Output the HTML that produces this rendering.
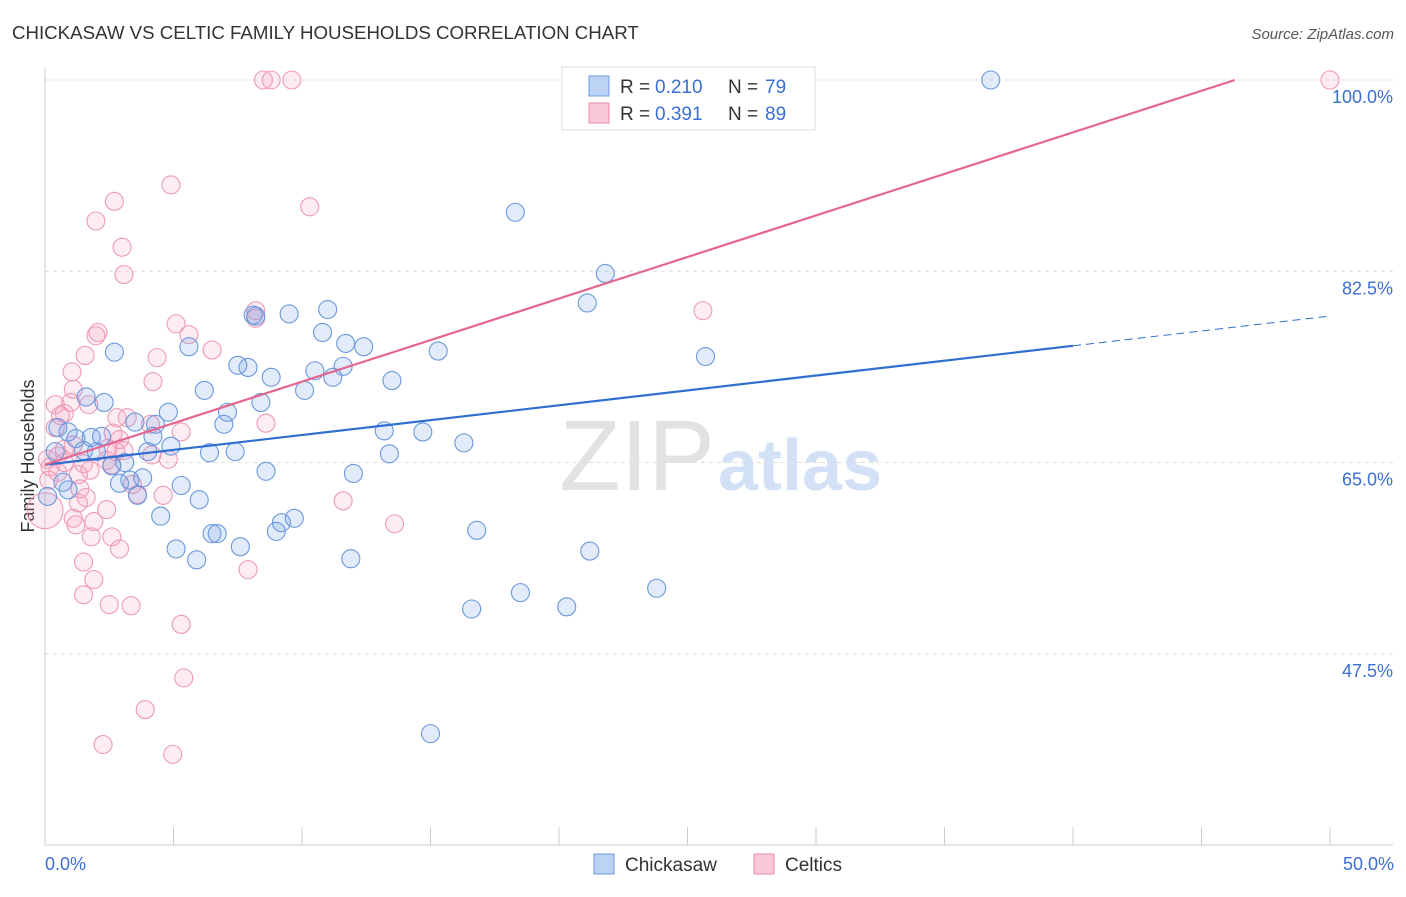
<!DOCTYPE html>
<html><head><meta charset="utf-8"><style>
body{margin:0;background:#fff;font-family:"Liberation Sans",sans-serif;}
svg text{font-family:"Liberation Sans",sans-serif;}
</style></head><body>
<svg id="chart" width="1406" height="892" viewBox="0 0 1406 892" xmlns="http://www.w3.org/2000/svg">
<text x="12" y="39" font-size="18.7" fill="#333">CHICKASAW VS CELTIC FAMILY HOUSEHOLDS CORRELATION CHART</text>
<text x="1394" y="39" font-size="15" fill="#555" text-anchor="end" font-style="italic">Source: ZipAtlas.com</text>
<g id="grid"></g>
<text x="715" y="490" font-size="100" text-anchor="end" fill="#e2e2e2" font-family="Liberation Serif">ZIP</text>
<text x="718" y="490" font-size="72" fill="#d3e1f6" font-weight="bold">atlas</text>
<line x1="45" y1="68" x2="45" y2="845" stroke="#ccc"/>
<line x1="45" y1="845" x2="1393" y2="845" stroke="#ccc"/>
<g id="xticks"></g>
<g id="yticks"></g>
<text transform="translate(34,456) rotate(-90)" font-size="18" fill="#333" text-anchor="middle">Family Households</text>
<text x="45" y="870" font-size="18" fill="#3b6fd4">0.0%</text>
<text x="1394" y="870" font-size="18" fill="#3b6fd4" text-anchor="end">50.0%</text>
<g id="points"></g>
<g id="lines"></g>
<g>
<rect x="562" y="67" width="253" height="63" fill="#fff" stroke="#ddd"/>
<rect x="589" y="76" width="20" height="20" fill="#bcd3f5" stroke="#6d9be0"/>
<rect x="589" y="103" width="20" height="20" fill="#f9c8d8" stroke="#e88aa8"/>
<text x="620" y="93" font-size="19" fill="#333">R =</text>
<text x="655" y="93" font-size="19" fill="#3b6fd4">0.210</text>
<text x="728" y="93" font-size="19" fill="#333">N =</text>
<text x="765" y="93" font-size="19" fill="#3b6fd4">79</text>
<text x="620" y="120" font-size="19" fill="#333">R =</text>
<text x="655" y="120" font-size="19" fill="#3b6fd4">0.391</text>
<text x="728" y="120" font-size="19" fill="#333">N =</text>
<text x="765" y="120" font-size="19" fill="#3b6fd4">89</text>
</g>
<g>
<rect x="594" y="854" width="20" height="20" fill="#bcd3f5" stroke="#6d9be0"/>
<text x="625" y="871" font-size="19" fill="#333">Chickasaw</text>
<rect x="754" y="854" width="20" height="20" fill="#f9c8d8" stroke="#e88aa8"/>
<text x="785" y="871" font-size="19" fill="#333">Celtics</text>
</g>
</svg>
<script>
const yTicks=[47.5,65.0,82.5,100.0];
const blueX=[36.8,18.3,21.8,21.1,25.7,2.7,5.6,8.1,8.2,9.5,11.0,10.8,11.7,12.4,15.3,7.5,7.9,11.6,10.5,8.8,11.2,13.5,6.2,10.1,8.4,2.3,1.6,4.8,7.1,6.96,4.3,3.5,0.5,0.9,1.2,1.8,2.2,4.2,13.2,14.7,16.3,4.9,4.0,0.4,1.5,2.0,6.4,7.4,13.4,3.1,2.6,8.6,12.0,3.8,3.3,2.9,0.7,5.3,0.9,3.6,6.0,0.1,4.5,9.7,9.2,9.0,6.5,6.7,16.8,7.6,5.1,21.2,5.9,11.9,23.8,18.5,20.3,16.6,15.0];
const blueY=[100,87.9,82.3,79.6,74.7,75.1,75.6,78.5,78.4,78.6,79.0,76.9,75.9,75.6,75.2,73.9,73.7,73.8,73.4,72.8,72.8,72.5,71.6,71.6,70.5,70.5,71.0,69.6,69.6,68.5,68.5,68.7,68.2,67.8,67.2,67.3,67.4,67.4,67.9,67.8,66.8,66.5,66.0,66.0,66.1,66.0,65.9,66.0,65.8,65.0,64.7,64.2,64.0,63.6,63.4,63.1,63.2,62.9,62.5,62.0,61.6,61.9,60.1,59.9,59.5,58.7,58.5,58.5,58.8,57.3,57.1,56.9,56.1,56.2,53.5,53.1,51.8,51.6,40.2];
const pinkX=[50.0,8.5,8.8,9.6,4.9,10.3,2.7,1.98,3.0,3.07,8.2,8.2,25.6,5.1,2.06,1.98,5.6,6.5,1.56,4.36,1.05,4.2,1.1,1.7,0.4,1.0,0.75,0.6,3.2,2.8,4.1,8.6,0.4,2.65,5.3,2.9,1.1,0.75,2.45,2.76,3.07,4.16,0.5,0.1,4.8,0.75,1.5,2.4,0.2,0.5,1.3,1.75,2.6,3.4,1.36,0.15,4.6,3.6,1.6,1.3,11.6,2.4,1.1,1.9,1.2,13.6,0.0,1.8,2.6,2.9,1.5,7.9,1.9,1.5,2.5,3.35,5.3,5.4,3.9,2.26,4.97];
const pinkY=[100,100,100,100,90.4,88.4,88.9,87.1,84.7,82.2,78.9,78.2,78.9,77.7,76.9,76.6,76.7,75.3,74.8,74.6,73.3,72.4,71.7,70.3,70.3,70.5,69.5,69.3,69.1,69.1,68.5,68.6,68.2,67.7,67.8,67.1,66.6,66.2,66.3,66.0,66.1,65.7,65.6,65.3,65.3,65.0,64.9,65.2,64.6,64.1,63.9,64.3,64.8,63.0,62.6,63.4,62.0,62.1,61.8,61.3,61.5,60.7,59.9,59.6,59.3,59.4,60.6,58.2,58.2,57.1,55.9,55.2,54.3,52.9,52.0,51.9,50.2,45.3,42.4,39.2,38.3];
const blueTrend=[64.8,78.4];
const pinkTrend=[64.8,100];
const pinkTrendEndX=46.3;
const blueSolidEndX=40.0;

const NS="http://www.w3.org/2000/svg";
const sx=v=>45+v*25.7;
const sy=v=>80+(100-v)*10.93;
function mk(tag,attrs,parent){const e=document.createElementNS(NS,tag);for(const k in attrs)e.setAttribute(k,attrs[k]);parent.appendChild(e);return e;}
const grid=document.getElementById('grid'),yt=document.getElementById('yticks'),xt=document.getElementById('xticks');
yTicks.forEach(t=>{
 const l=mk('line',{x1:45,x2:1393,y1:sy(t),y2:sy(t),stroke:'#ddd','stroke-dasharray':'4,4'},grid);
 
 
 const tx=mk('text',{x:1393,y:sy(t)+23,'font-size':18,fill:'#3b6fd4','text-anchor':'end'},yt);
 tx.textContent=t.toFixed(1)+'%';
 
 
});
for(let i=0;i<=10;i++){
 const l=mk('line',{x1:sx(i*5),x2:sx(i*5),y1:827,y2:845,stroke:'#ccc'},xt);
 
 
}
const pts=document.getElementById('points');


pinkX.forEach((x,i)=>{
 const c=mk('circle',{cx:sx(x),cy:sy(pinkY[i]),r:(x===0?18:9),fill:'rgba(243,160,190,0.2)',stroke:'#ee9ab7','stroke-width':1.1},pts);
 
 
});
blueX.forEach((x,i)=>{
 const c=mk('circle',{cx:sx(x),cy:sy(blueY[i]),r:9,fill:'rgba(110,155,230,0.2)',stroke:'#6b98dc','stroke-width':1.1},pts);
 
 
});
const lines=document.getElementById('lines');
const bAt=x=>blueTrend[0]+(blueTrend[1]-blueTrend[0])*x/50;
const b1=mk('line',{x1:sx(0),y1:sy(blueTrend[0]),x2:sx(blueSolidEndX),y2:sy(bAt(blueSolidEndX)),stroke:'#2f6fd0','stroke-width':2.2},lines);


const b2=mk('line',{x1:sx(blueSolidEndX),y1:sy(bAt(blueSolidEndX)),x2:sx(50),y2:sy(blueTrend[1]),stroke:'#2f6fd0','stroke-width':1,'stroke-dasharray':'8,5'},lines);


const p1=mk('line',{x1:sx(0),y1:sy(pinkTrend[0]),x2:sx(pinkTrendEndX),y2:sy(pinkTrend[1]),stroke:'#e5668f','stroke-width':2.2},lines);


</script>
</body></html>
